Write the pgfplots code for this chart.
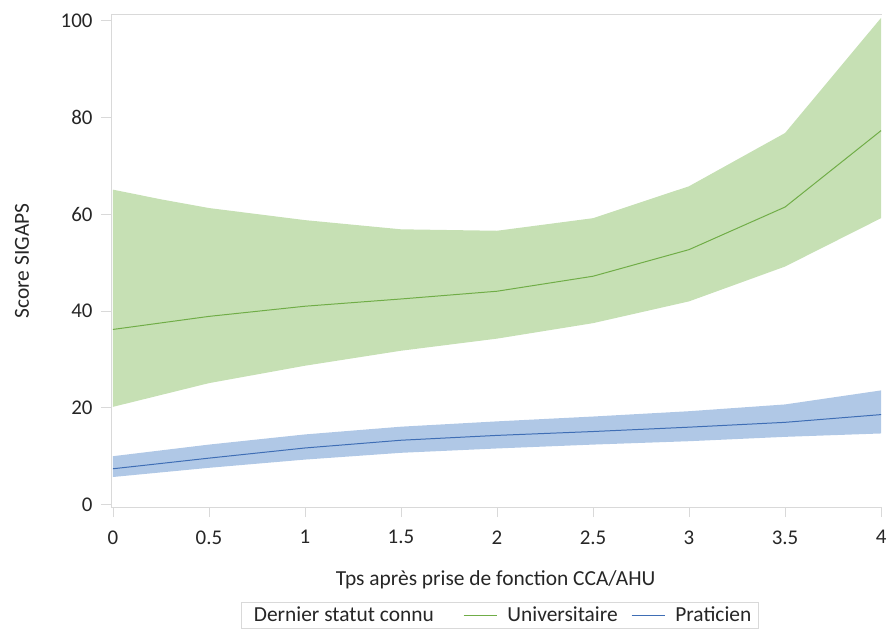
\documentclass[border=0pt]{standalone}
\usepackage{pgfplots}
\pgfplotsset{compat=1.18}
\usepackage{fontspec}
\setmainfont{Carlito}
\definecolor{gfill}{HTML}{C6E0B4}
\definecolor{gline}{HTML}{70AD47}
\definecolor{bfill}{HTML}{B0C8E6}
\definecolor{bline}{HTML}{3F6EB5}
\definecolor{axgray}{HTML}{D9D9D9}
\definecolor{txt}{HTML}{262626}
\begin{document}
\begin{tikzpicture}
\path[use as bounding box] (0,0) rectangle (887bp,630bp);
\begin{axis}[
  at={(111bp,123bp)}, anchor=south west,
  scale only axis, width=771bp, height=492bp,
  xmin=-0.01, xmax=4.005, ymin=-0.5, ymax=101.2,
  axis lines=left,
  axis line style={-, draw=axgray, line width=1pt},
  xtick={0,0.5,...,4}, ytick={0,20,...,100},
  xticklabels={0,0.5,1,1.5,2,2.5,3,3.5,4},
  tick align=outside, major tick length=10bp,
  tick style={draw=axgray, line width=0.8pt},
  /pgf/number format/assume math mode=true,
  tick label style={font=\fontsize{21}{25}\selectfont, text=txt},
  xticklabel style={yshift=-10bp},
  yticklabel style={xshift=-5bp},
  xlabel={Tps après prise de fonction CCA/AHU},
  ylabel={Score SIGAPS},
  label style={font=\fontsize{21.5}{25}\selectfont, text=txt},
  xlabel style={at={(axis description cs:0.499,-0.148)}, anchor=center},
  ylabel style={at={(axis description cs:-0.1155,0.5)}, anchor=center},
  legend columns=-1,
  legend style={at={(axis description cs:0.504,-0.193)}, anchor=north,
    draw=axgray, font=\fontsize{21.5}{25}\selectfont,
    inner xsep=3bp, inner ysep=3bp,
    nodes={inner xsep=0bp, text=txt},
    /tikz/every odd column/.append style={column sep=10bp},
    /tikz/every even column/.append style={column sep=13bp},
    /tikz/column 1/.style={column sep=3bp}},
  legend image code/.code={\draw[#1, line width=1.6pt] (0bp,0bp) -- (33bp,0bp);},
  clip=false,
]
% green band
\addplot[fill=gfill, draw=none, forget plot] coordinates {
 (0,65.1) (0.25,63.1) (0.5,61.3) (1,58.8) (1.5,56.9) (2,56.6) (2.5,59.2) (3,65.8) (3.5,76.8) (4,100.6)
 (4,59.2) (3.5,49.2) (3,42.0) (2.5,37.5) (2,34.3) (1.5,31.8) (1,28.7) (0.5,25.1) (0,20.2)
} -- cycle;
% blue band
\addplot[fill=bfill, draw=none, forget plot] coordinates {
 (0,10.0) (0.5,12.4) (1,14.5) (1.5,16.1) (2,17.2) (2.5,18.2) (3,19.3) (3.5,20.7) (4,23.6)
 (4,14.7) (3.5,14.0) (3,13.1) (2.5,12.4) (2,11.6) (1.5,10.7) (1,9.3) (0.5,7.6) (0,5.7)
} -- cycle;
\addlegendimage{empty legend}
\addlegendentry{Dernier statut connu\rule{16bp}{0pt}}
\addplot[draw=gline, line width=1pt] coordinates {
 (0,36.2) (0.5,38.9) (1,41.0) (1.5,42.5) (2,44.1) (2.5,47.2) (3,52.7) (3.5,61.5) (4,77.3)
};
\addlegendentry{Universitaire}
\addplot[draw=bline, line width=1pt] coordinates {
 (0,7.4) (0.5,9.6) (1,11.7) (1.5,13.3) (2,14.3) (2.5,15.1) (3,16.0) (3.5,17.0) (4,18.6)
};
\addlegendentry{Praticien\rule{4bp}{0pt}}
\draw[axgray, line width=1pt] (rel axis cs:0,1) -- (rel axis cs:1,1);
\end{axis}
\end{tikzpicture}
\end{document}
